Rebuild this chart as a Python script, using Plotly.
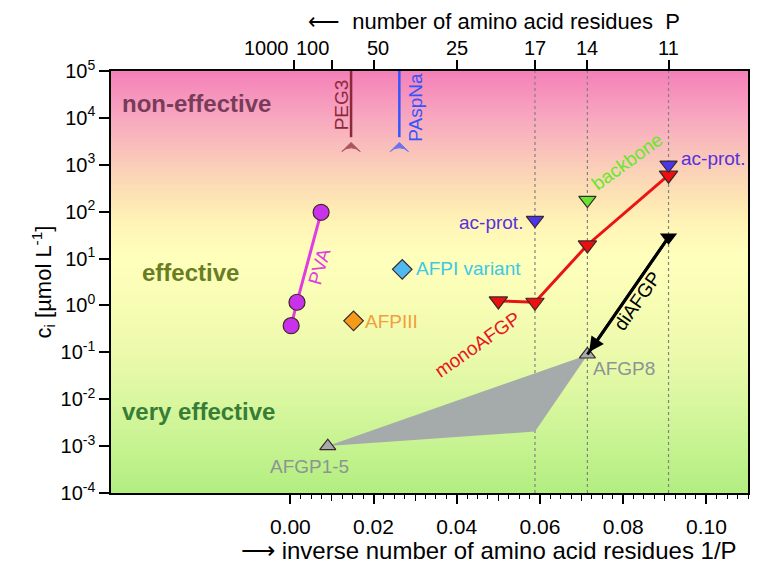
import numpy as np
import plotly.graph_objects as go

# ---------------- data ----------------
pva_x = [0.0002, 0.0016, 0.0074]
pva_y = [0.37, 1.17, 97]

afpi_x, afpi_y = [0.0269], [5.9]
afpiii_x, afpiii_y = [0.0152], [0.47]

mono_x = [0.0500, 0.0588, 0.0714, 0.0909]
mono_y = [1.25, 1.17, 19.5, 600]

acprot_x = [0.0588, 0.0909]
acprot_y = [66, 1000]

backbone_x, backbone_y = [0.0714], [177]

diafgp_x = [0.0714, 0.0909]
diafgp_y = [0.09, 28.5]

afgp8_x, afgp8_y = [0.0714], [0.09]
afgp15_x, afgp15_y = [0.0090], [0.001]

afgp_poly_x = [0.0090, 0.0588, 0.0714]
afgp_poly_y = [0.001, 0.00204, 0.088]

peg3_x, peg3_y = 0.0146, 3000
paspna_x, paspna_y = 0.0262, 3000

top_P = [1000, 100, 50, 25, 17, 14, 11]
top_inv = [0.001, 0.01, 0.02, 0.04, 0.0588, 0.0714, 0.0909]
dotted_inv = [0.0588, 0.0714, 0.0909]

x_ticks = [0.00, 0.02, 0.04, 0.06, 0.08, 0.10]
x_mid_ticks = [0.01, 0.03, 0.05, 0.07, 0.09]
y_exp = [-4, -3, -2, -1, 0, 1, 2, 3, 4, 5]

X_RANGE = [-0.0431, 0.110]
Y_RANGE = [-4, 5]

FONT = "Liberation Sans, Arial, sans-serif"

fig = go.Figure()

# background gradient
yy = np.logspace(-4.2, 5.2, 240)
zz = np.log10(yy)[:, None] * np.ones((1, 2))
fig.add_trace(go.Heatmap(
    x=[X_RANGE[0], X_RANGE[1]], y=yy, z=zz, zmin=-4, zmax=5, showscale=False,
    hoverinfo="skip",
    colorscale=[
        [0.0, "rgb(178,238,128)"],
        [0.11, "rgb(198,243,145)"],
        [0.222, "rgb(218,247,160)"],
        [0.333, "rgb(236,250,172)"],
        [0.444, "rgb(247,253,180)"],
        [0.56, "rgb(255,255,188)"],
        [0.64, "rgb(255,244,182)"],
        [0.70, "rgb(253,228,180)"],
        [0.778, "rgb(250,205,185)"],
        [0.889, "rgb(248,168,192)"],
        [1.0, "rgb(243,128,184)"],
    ],
))

# dotted vertical lines
for v in dotted_inv:
    fig.add_trace(go.Scatter(x=[v, v], y=[1e-4, 1e5], mode="lines",
                             line=dict(color="rgb(130,130,130)", width=1.2, dash="dot"),
                             hoverinfo="skip", showlegend=False))

# AFGP polygon
fig.add_trace(go.Scatter(x=afgp_poly_x, y=afgp_poly_y, fill="toself", mode="lines",
                         fillcolor="rgb(165,170,170)", line=dict(width=0, color="rgb(165,170,170)"),
                         showlegend=False, hoverinfo="skip"))

# PEG3 / PAspNa
for xv, yv, col in [(peg3_x, peg3_y, "rgb(140,40,55)"), (paspna_x, paspna_y, "rgb(50,85,255)")]:
    fig.add_trace(go.Scatter(x=[xv, xv], y=[1e5, yv], mode="lines+markers",
                             line=dict(color=col, width=2.5),
                             marker=dict(symbol=["circle", "arrow-wide"], size=[0, 13],
                                         color=col, line=dict(width=1, color=col)),
                             showlegend=False))

OUT = dict(color="rgb(60,40,40)", width=1.2)

# PVA
fig.add_trace(go.Scatter(x=pva_x, y=pva_y, mode="lines+markers",
                         line=dict(color="rgb(225,60,225)", width=3),
                         marker=dict(symbol="circle", size=16, color="rgb(200,50,235)", line=OUT),
                         showlegend=False))
# AFPs
fig.add_trace(go.Scatter(x=afpi_x, y=afpi_y, mode="markers",
                         marker=dict(symbol="diamond", size=15, color="rgb(80,185,240)", line=OUT),
                         showlegend=False))
fig.add_trace(go.Scatter(x=afpiii_x, y=afpiii_y, mode="markers",
                         marker=dict(symbol="diamond", size=15, color="rgb(245,155,25)", line=OUT),
                         showlegend=False))

# monoAFGP
fig.add_trace(go.Scatter(x=mono_x, y=mono_y, mode="lines+markers",
                         line=dict(color="rgb(235,20,20)", width=3),
                         marker=dict(symbol="triangle-down", size=16, color="rgb(235,15,15)", line=OUT),
                         showlegend=False))
# ac-prot
fig.add_trace(go.Scatter(x=acprot_x, y=acprot_y, mode="markers",
                         marker=dict(symbol="triangle-down", size=15, color="rgb(75,55,235)", line=OUT),
                         showlegend=False))
# backbone
fig.add_trace(go.Scatter(x=backbone_x, y=backbone_y, mode="markers",
                         marker=dict(symbol="triangle-down", size=15, color="rgb(100,230,50)", line=OUT),
                         showlegend=False))
# AFGP1-5, AFGP8
fig.add_trace(go.Scatter(x=afgp15_x + afgp8_x, y=afgp15_y + afgp8_y, mode="markers",
                         marker=dict(symbol="triangle-up", size=14, color="rgb(165,170,172)", line=OUT),
                         showlegend=False))
# diAFGP line + marker
fig.add_trace(go.Scatter(x=diafgp_x, y=diafgp_y, mode="lines",
                         line=dict(color="black", width=3), showlegend=False))
fig.add_trace(go.Scatter(x=diafgp_x[1:], y=diafgp_y[1:], mode="markers",
                         marker=dict(symbol="triangle-down", size=15, color="black", line=dict(width=0)),
                         showlegend=False))
fig.add_annotation(x=diafgp_x[0], y=np.log10(diafgp_y[0]), ax=diafgp_x[1], ay=np.log10(diafgp_y[1]),
                   xref="x", yref="y", axref="x", ayref="y", text="", showarrow=True,
                   arrowhead=2, arrowsize=1, arrowwidth=3, arrowcolor="black", standoff=3)

# invisible traces to activate extra axes
fig.add_trace(go.Scatter(x=[0.05], y=[1], xaxis="x2", mode="markers", marker=dict(opacity=0),
                         showlegend=False, hoverinfo="skip"))
fig.add_trace(go.Scatter(x=[0.05], y=[1], xaxis="x3", mode="markers", marker=dict(opacity=0),
                         showlegend=False, hoverinfo="skip"))

# -------------- labels --------------
def lab(text, x, y, color, size=19, angle=0, xanchor="center", bold=False):
    fig.add_annotation(x=x, y=y, xref="x", yref="y", text=(f"<b>{text}</b>" if bold else text),
                       showarrow=False, textangle=angle, xanchor=xanchor, yanchor="middle",
                       font=dict(family=FONT, size=size, color=color))

lab("non-effective", -0.0409, 4.30, "rgb(120,60,90)", size=24, xanchor="left", bold=True)
lab("effective", -0.0362, 0.70, "rgb(105,125,35)", size=24, xanchor="left", bold=True)
lab("very effective", -0.0410, -2.26, "rgb(55,125,55)", size=24, xanchor="left", bold=True)

lab("PEG3", 0.0122, 4.27, "rgb(140,40,55)", angle=-90)
lab("PAspNa", 0.0300, 4.22, "rgb(50,85,255)", angle=-90)
lab("PVA", 0.0070, 0.83, "rgb(225,60,225)", angle=-74)
lab("AFPI variant", 0.0298, 0.78, "rgb(60,200,230)", xanchor="left")
lab("AFPIII", 0.0174, -0.35, "rgb(240,160,60)", xanchor="left")
lab("monoAFGP", 0.0450, -0.84, "rgb(232,20,30)", angle=-35)
lab("diAFGP", 0.0835, 0.10, "black", angle=-55)
lab("backbone", 0.0810, 3.07, "rgb(105,230,45)", angle=-36)
lab("ac-prot.", 0.0563, 1.77, "rgb(85,50,220)", xanchor="right")
lab("ac-prot.", 0.0934, 3.14, "rgb(85,50,220)", xanchor="left")
lab("AFGP8", 0.0722, -1.34, "rgb(140,148,148)", xanchor="left")
lab("AFGP1-5", 0.0047, -3.44, "rgb(140,148,148)")

# top tick labels (manually spaced like the original)
top_label_pos = [(0.0001, "right"), (0.0097, "right"), (0.0210, "center"), (0.0400, "center"),
                 (0.0588, "center"), (0.0714, "center"), (0.0909, "center")]
for p, (xp, anc) in zip(top_P, top_label_pos):
    fig.add_annotation(x=xp, y=1, xref="x", yref="paper", yshift=23, yanchor="middle",
                       xanchor=anc, text=str(p), showarrow=False,
                       font=dict(family=FONT, size=20, color="black"))

# axis titles
fig.add_annotation(xref="paper", yref="paper", x=0.602, y=1, yshift=50, yanchor="middle",
                   text="⟵  number of amino acid residues  P", showarrow=False,
                   font=dict(family=FONT, size=22, color="black"))
fig.add_annotation(xref="paper", yref="paper", x=0.594, y=0, yshift=-57, yanchor="middle",
                   text="⟶ inverse number of amino acid residues 1/P", showarrow=False,
                   font=dict(family=FONT, size=24, color="black"))
fig.add_annotation(xref="paper", yref="paper", x=0, xshift=-86, y=0.5, textangle=-90,
                   text="c<sub>i</sub> [µmol L<sup>-1</sup>]", showarrow=False,
                   font=dict(family=FONT, size=22, color="black"))

minor_vals = [round(0.0025 * i, 4) for i in range(0, 45)]
minor_vals = [v for v in minor_vals if round(v * 100) / 100 != v or v > 0.1]

# page body adds an 8px offset; margins are shifted to compensate
fig.update_layout(
    width=764, height=568,
    margin=dict(l=103, r=24, t=63, b=83, autoexpand=False),
    paper_bgcolor="white", plot_bgcolor="white",
    showlegend=False,
    font=dict(family=FONT, size=20, color="black"),
    xaxis=dict(range=X_RANGE, tickmode="array", tickvals=x_ticks,
               ticktext=[f"{v:.2f}" for v in x_ticks], tickangle=0, automargin=False,
               ticks="outside", ticklen=9, tickwidth=1.5, tickcolor="black",
               showline=True, linecolor="black", linewidth=1.5, mirror=True,
               showgrid=False, zeroline=False, ticklabelstandoff=5,
               tickfont=dict(size=21),
               minor=dict(tickmode="array", tickvals=minor_vals, ticks="outside",
                          ticklen=4, tickwidth=1.2, tickcolor="black", showgrid=False)),
    xaxis2=dict(range=X_RANGE, overlaying="x", side="top", tickmode="array",
                tickvals=top_inv, showticklabels=False, automargin=False,
                ticks="outside", ticklen=10, tickwidth=1.5, tickcolor="black",
                showline=False, showgrid=False, zeroline=False),
    xaxis3=dict(range=X_RANGE, overlaying="x", side="bottom", tickmode="array",
                tickvals=x_mid_ticks, ticks="outside", ticklen=6.5, tickwidth=1.3,
                tickcolor="black", showticklabels=False, showline=False, automargin=False,
                showgrid=False, zeroline=False),
    yaxis=dict(type="log", range=Y_RANGE, tickmode="array", automargin=False,
               tickvals=[10.0 ** k for k in y_exp],
               ticktext=[f"10<sup>{k}</sup>" for k in y_exp],
               ticks="outside", ticklen=10, tickwidth=1.5, tickcolor="black",
               showline=True, linecolor="black", linewidth=1.5, mirror=True,
               showgrid=False, zeroline=False, tickfont=dict(size=20)),
)

fig.write_html("out.html")
